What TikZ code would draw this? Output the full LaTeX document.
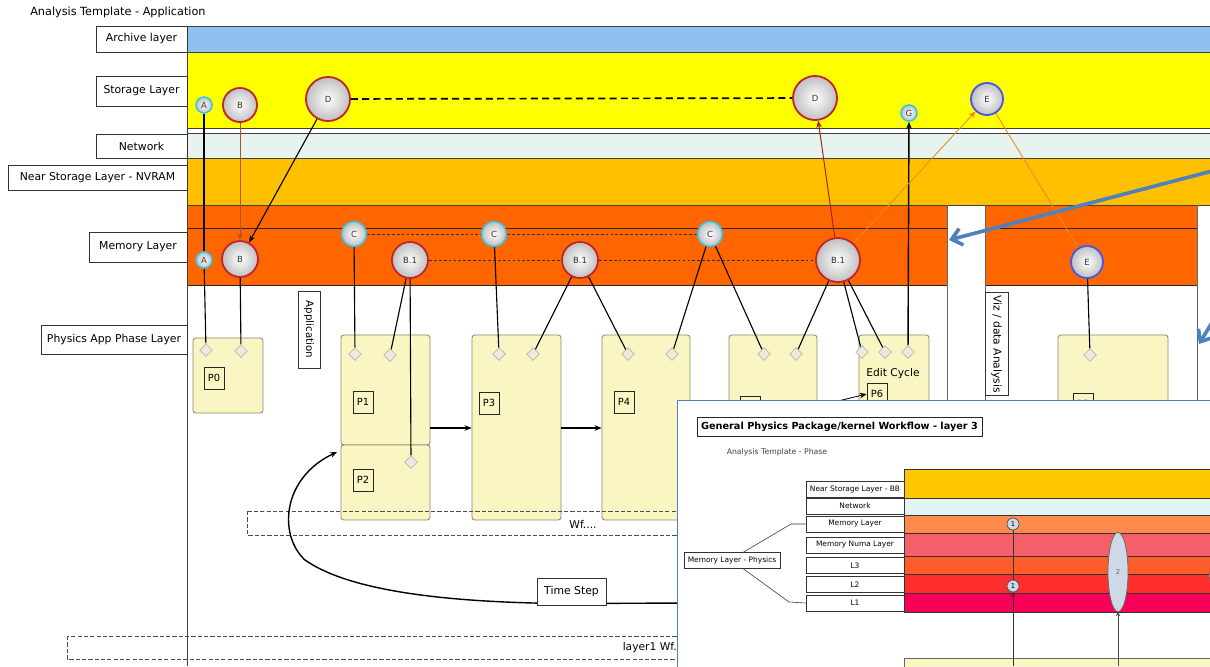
\documentclass[tikz,border=0pt]{standalone}
\usepackage{fontspec}
\setmainfont{DejaVu Sans}
\usetikzlibrary{shapes.geometric,arrows.meta}
\pgfdeclarelayer{bands}
\pgfdeclarelayer{boxes}
\pgfdeclarelayer{conn}
\pgfdeclarelayer{top}
\pgfsetlayers{bands,boxes,conn,main,top}
\definecolor{archive}{HTML}{8FC0F2}
\definecolor{storage}{HTML}{FFFF00}
\definecolor{network}{HTML}{E6F3EE}
\definecolor{nearst}{HTML}{FFC000}
\definecolor{memory}{HTML}{FF6600}
\definecolor{pfill}{HTML}{FAF6C4}
\definecolor{pborder}{HTML}{8A8870}
\definecolor{redring}{HTML}{C0262C}
\definecolor{cyanring}{HTML}{35C5E8}
\definecolor{bluering}{HTML}{4B55E6}
\definecolor{callout}{HTML}{4F81BD}
\definecolor{brownln}{HTML}{B5502A}
\definecolor{orangeln}{HTML}{E88A1A}
\definecolor{dmdfill}{HTML}{ECEADF}
\definecolor{dmdline}{HTML}{B8B6A6}
\definecolor{bbcol}{HTML}{FFC800}
\definecolor{inet}{HTML}{E2F4F1}
\definecolor{imem}{HTML}{FF8A4C}
\definecolor{inuma}{HTML}{F4606A}
\definecolor{ilthree}{HTML}{FF5C2C}
\definecolor{iltwo}{HTML}{FF2E2E}
\definecolor{ilone}{HTML}{F8005A}
\definecolor{ellfill}{HTML}{CDD9E6}
\begin{document}
\begin{tikzpicture}[x=0.025cm,y=-0.025cm,
  lbl/.style={draw=black!80, fill=white, inner sep=0pt, line width=0.5pt, font=\fontsize{7.7}{9}\selectfont},
  ringnode/.style={circle, inner sep=0pt, line width=1.3pt, inner color=white, outer color=black!25, font=\fontsize{6}{7}\selectfont, text=black!80},
  rring/.style={ringnode, draw=redring},
  cring/.style={ringnode, draw=cyanring, line width=1.1pt},
  bring/.style={ringnode, draw=bluering},
  dmd/.style={diamond, minimum size=0.32cm, inner sep=0pt, fill=dmdfill, draw=dmdline, line width=0.5pt},
  pbox/.style={draw=pborder, fill=pfill, rounded corners=2pt, line width=0.6pt, inner sep=0pt},
  plabel/.style={draw=black!85, fill=pfill, inner sep=0pt, minimum width=0.5cm, minimum height=0.55cm, line width=0.5pt, font=\fontsize{7}{8}\selectfont},
  ln/.style={line width=0.8pt, black},
  tip/.style={-{Stealth[length=5pt,width=4pt]}},
  ilbl/.style={draw=black!80, fill=white, inner sep=0pt, line width=0.4pt, minimum width=2.45cm, minimum height=0.39cm, font=\fontsize{5.3}{6}\selectfont},
  plain/.style={inner sep=0pt}
]
\useasboundingbox (0,0) rectangle (1210,666);

% ---------------- bands ----------------
\begin{pgfonlayer}{bands}
\fill[white] (0,0) rectangle (1210,666);
\fill[archive] (187,26) rectangle (1212,52);
\fill[storage] (187,52) rectangle (1212,128);
\fill[network] (187,133) rectangle (1212,158);
\fill[nearst] (187,158) rectangle (1212,205);
\fill[memory] (187,205) rectangle (947,285);
\fill[memory] (985,205) rectangle (1197,285);
\draw[black!75, line width=0.6pt] (187,26) -- (1212,26) (187,52) -- (1212,52)
  (187,128) -- (1212,128) (187,133) -- (1212,133) (187,158) -- (1212,158)
  (187,205) -- (1212,205);
\draw[black!85, line width=0.5pt] (187,228) -- (947,228) (985,228) -- (1197,228)
  (187,285) -- (947,285) (985,285) -- (1197,285);
\draw[black!60, line width=0.5pt] (947,205) -- (947,666) (985,205) -- (985,666) (1197,205) -- (1197,666);
\draw[black!75, line width=0.6pt] (187,26) -- (187,666);
\end{pgfonlayer}

\node[anchor=west, plain, font=\fontsize{8}{9}\selectfont] (ttl) at (30,12) {Analysis Template - Application};

% layer labels
\node[lbl, minimum width=2.275cm, minimum height=0.65cm] (lArch) at (141.5,39) {Archive layer};
\node[lbl, minimum width=2.275cm, minimum height=0.75cm] (lStor) at (141.5,91) {Storage Layer};
\node[lbl, minimum width=2.275cm, minimum height=0.6cm] (lNet) at (141.5,146) {Network};
\node[lbl, minimum width=4.475cm, minimum height=0.625cm] (lNear) at (97.5,177.5) {Near Storage Layer - NVRAM};
\node[lbl, minimum width=2.45cm, minimum height=0.75cm] (lMem) at (138,247) {Memory Layer};
\node[lbl, minimum width=3.65cm, minimum height=0.725cm] (lPhys) at (114,339.5) {Physics App Phase Layer};

% ---------------- phase boxes ----------------
\begin{pgfonlayer}{boxes}
\node[pbox, minimum width=1.75cm, minimum height=1.875cm] (p0) at (228,375.5) {};
\node[pbox, minimum width=2.225cm, minimum height=2.75cm] (p1) at (385.5,390) {};
\node[pbox, minimum width=2.225cm, minimum height=1.875cm] (p2) at (385.5,482.5) {};
\node[pbox, minimum width=2.225cm, minimum height=4.625cm] (p3) at (516.5,427.5) {};
\node[pbox, minimum width=2.2cm, minimum height=4.625cm] (p4) at (646,427.5) {};
\node[pbox, minimum width=2.2cm, minimum height=4.625cm] (p5) at (773,427.5) {};
\node[pbox, minimum width=1.75cm, minimum height=4.625cm] (p6) at (894,427.5) {};
\node[pbox, minimum width=2.75cm, minimum height=4.625cm] (p8) at (1113,427.5) {};
\end{pgfonlayer}

\node[plabel] (lp0) at (214,378) {P0};
\node[plabel] (lp1) at (363,402) {P1};
\node[plabel] (lp2) at (363,480) {P2};
\node[plabel] (lp3) at (489,403) {P3};
\node[plabel] (lp4) at (624,402) {P4};
\node[plabel] (lp5) at (750,407) {P5};
\node[plabel] (lp6) at (877,394) {P6};
\node[plabel] (lp8) at (1083,404) {P8};
\node[plain, font=\fontsize{7.6}{8}\selectfont] (edit) at (893,374) {Edit Cycle};

% diamonds
\node[dmd] (d0a) at (206,350) {};
\node[dmd] (d0b) at (241,351) {};
\node[dmd] (d1a) at (355,354) {};
\node[dmd] (d1b) at (390,355) {};
\node[dmd] (d2a) at (411,462) {};
\node[dmd] (d3a) at (499,354) {};
\node[dmd] (d3b) at (533,354) {};
\node[dmd] (d4a) at (628,354) {};
\node[dmd] (d4b) at (672,354) {};
\node[dmd] (d5a) at (764,354) {};
\node[dmd] (d5b) at (796,354) {};
\node[dmd] (d6a) at (862,352) {};
\node[dmd] (d6b) at (885,352) {};
\node[dmd] (d6c) at (908,352) {};
\node[dmd] (d8a) at (1090,355) {};

% vertical captions
\node[lbl, rotate=-90, minimum width=1.925cm, minimum height=0.55cm, font=\fontsize{7.3}{8}\selectfont] (app) at (309,329.5) {Application};
\node[lbl, rotate=-90, anchor=west, minimum height=0.58cm, inner xsep=2pt, font=\fontsize{7.6}{8}\selectfont] (viz) at (996.5,292) {Viz / data Analysis\hspace{8pt}};

% ---------------- circles ----------------
\node[cring, minimum size=0.4cm] (aS) at (204,105) {A};
\node[rring, minimum size=0.85cm] (bS) at (240,105) {B};
\node[rring, minimum size=1.1cm] (dS1) at (328,99) {D};
\node[rring, minimum size=1.1cm] (dS2) at (815,98) {D};
\node[cring, minimum size=0.4cm] (gS) at (909,113) {G};
\node[bring, minimum size=0.8cm] (eS) at (987,99) {E};
\node[cring, minimum size=0.4cm] (aM) at (204,260) {A};
\node[rring, minimum size=0.9cm] (bM) at (240,259) {B};
\node[cring, minimum size=0.62cm] (cM1) at (354,234) {C};
\node[cring, minimum size=0.62cm] (cM2) at (494,234) {C};
\node[cring, minimum size=0.62cm] (cM3) at (710,234) {C};
\node[rring, minimum size=0.9cm] (b1a) at (410,260) {B.1};
\node[rring, minimum size=0.9cm] (b1b) at (580,260) {B.1};
\node[rring, minimum size=1.1cm] (b1c) at (838,260) {B.1};
\node[bring, minimum size=0.8cm] (eM) at (1087,262) {E};

% other boxes
\node[lbl, minimum width=1.725cm, minimum height=0.675cm] (tstep) at (571.5,591.5) {Time Step};
\coordinate (wfA) at (247,511);
\coordinate (wfB) at (700,535);
\coordinate (lyA) at (67,636);
\coordinate (lyB) at (700,659);
\node[plain, font=\fontsize{7.6}{8}\selectfont] (wftxt) at (583,524) {Wf....};
\node[plain, anchor=east, font=\fontsize{7.6}{8}\selectfont] (lytxt) at (677,648) {layer1 Wf.};
\coordinate (tsStart) at (700,603);
\coordinate (tsEnd) at (337,452);
\coordinate (p6in) at (826,404);

% ---------------- connectors ----------------
\begin{pgfonlayer}{conn}
\draw[black!70, line width=0.5pt, dash pattern=on 3pt off 1.5pt] (wfA) rectangle (wfB);
\draw[black!70, line width=0.5pt, dash pattern=on 3pt off 1.5pt] (lyA) rectangle (lyB);
\draw[line width=1.2pt, dash pattern=on 5pt off 3pt] (dS1) -- (dS2);
\draw[black!80, line width=0.5pt, dash pattern=on 2pt off 1.5pt] (cM1) -- (cM2);
\draw[black!80, line width=0.5pt, dash pattern=on 2pt off 1.5pt] (cM2) -- (cM3);
\draw[black!80, line width=0.5pt, dash pattern=on 2pt off 1.5pt] (b1a) -- (b1b);
\draw[black!80, line width=0.5pt, dash pattern=on 2pt off 1.5pt] (b1b) -- (b1c);
\draw[ln] (aS) -- (aM);
\draw[ln] (aM) -- (d0a);
\draw[brownln, line width=0.6pt, tip] (bS) -- (bM);
\draw[ln] (bM) -- (d0b);
\draw[ln, tip] (dS1) -- (bM);
\draw[ln] (cM1) -- (d1a);
\draw[ln] (b1a) -- (d1b);
\draw[ln] (b1a) -- (d2a);
\draw[ln] (cM2) -- (d3a);
\draw[ln] (b1b) -- (d3b);
\draw[ln] (b1b) -- (d4a);
\draw[ln] (cM3) -- (d4b);
\draw[ln] (cM3) -- (d5a);
\draw[ln] (b1c) -- (d5b);
\draw[ln] (b1c) -- (d6a);
\draw[ln] (b1c) -- (d6b);
\draw[ln, line width=1pt, tip] (d6c) -- (gS);
\draw[redring!85!black, line width=0.7pt, tip] (b1c) -- (dS2);
\draw[orangeln, line width=0.6pt, tip] (b1c) -- (eS);
\draw[orangeln, line width=0.6pt] (eS) -- (eM);
\draw[ln] (eM) -- (d8a);
\draw[ln, tip] (p1.east |- 0,428) -- (p3.west |- 0,428);
\draw[ln, tip] (p3.east |- 0,428) -- (p4.west |- 0,428);
\draw[black, line width=0.6pt, tip] (p6in) -- (lp6.west);
\draw[black, line width=1pt, tip] (tsStart) -- (560,603.5)
   .. controls (430,602) and (345,588) .. (305,560)
   .. controls (278,535) and (282,478) .. (tsEnd);
\end{pgfonlayer}

% ---------------- inset ----------------
\begin{pgfonlayer}{top}
\node[draw=callout, fill=white, line width=0.9pt, minimum width=13.5cm, minimum height=7cm, anchor=north west, inner sep=0pt] (inset) at (677,400) {};
\node[draw=black!85, line width=0.5pt, inner sep=0pt, minimum width=7.125cm, minimum height=0.47cm, font=\bfseries\fontsize{6.9}{8}\selectfont] (ititle) at (839.5,427) {General Physics Package/kernel Workflow - layer 3};
\node[plain, font=\fontsize{5.5}{6}\selectfont, text=black!75] (isub) at (777,452) {Analysis Template - Phase};
\fill[bbcol] (904,469) rectangle (1215,498);
\fill[inet] (904,498) rectangle (1215,515);
\fill[imem] (904,515) rectangle (1215,533);
\fill[inuma] (904,533) rectangle (1215,556);
\fill[ilthree] (904,556) rectangle (1215,574);
\fill[iltwo] (904,574) rectangle (1215,593);
\fill[ilone] (904,593) rectangle (1215,612);
\draw[black!80, line width=0.4pt] (904,469) -- (1215,469) (904,498) -- (1215,498) (904,515) -- (1215,515)
  (904,533) -- (1215,533) (904,556) -- (1215,556) (904,574) -- (1215,574) (904,593) -- (1215,593) (904,612) -- (1215,612);
\draw[black!80, line width=0.4pt] (904,469) -- (904,612);
\node[ilbl] (iNear) at (855,489.5) {Near Storage Layer - BB};
\node[ilbl] (iNet) at (855,506) {Network};
\node[ilbl] (iMem) at (855,524) {Memory Layer};
\node[ilbl] (iNuma) at (855,545) {Memory Numa Layer};
\node[ilbl] (iL3) at (855,565.5) {L3};
\node[ilbl] (iL2) at (855,584.5) {L2};
\node[ilbl] (iL1) at (855,603) {L1};
\node[ilbl, minimum width=2.4cm] (iPhys) at (732,560.5) {Memory Layer - Physics};
\draw[black!80, line width=0.4pt] ([xshift=0.275cm]iPhys.north) -- (791,524) -- (iMem.west);
\draw[black!80, line width=0.4pt] ([xshift=0.275cm]iPhys.south) -- (789,602) -- (iL1.west);
\fill[pfill] (904,658) rectangle (1215,670);
\draw[black!60, line width=0.5pt] (904,670) -- (904,658) -- (1215,658);
\node[circle, draw=black!70, fill=ellfill, line width=0.5pt, minimum size=0.3cm, inner sep=0pt, font=\fontsize{4.8}{5}\selectfont] (c1a) at (1013,524) {1};
\node[circle, draw=black!70, fill=ellfill, line width=0.5pt, minimum size=0.3cm, inner sep=0pt, font=\fontsize{4.8}{5}\selectfont] (c1b) at (1013,586) {1};
\node[ellipse, draw=black!60, fill=ellfill, line width=0.5pt, minimum width=0.5cm, minimum height=1.98cm, inner sep=0pt, font=\fontsize{4.8}{5}\selectfont, text=black!60] (e2) at (1118,572) {2};
\node[circle, draw=black!60, fill=ellfill, line width=0.5pt, minimum size=0.55cm, inner sep=0pt] (c3) at (1220,576) {};
\coordinate (c1foot) at (1013,666);
\coordinate (e2foot) at (1118,666);
\draw[black!80, line width=0.5pt] (c1a) -- (c1b);
\draw[black!80, line width=0.5pt, -{Stealth[length=3pt,width=3pt]}] (c1foot) -- (c1b);
\draw[black!70, line width=0.5pt, -{Stealth[length=3pt,width=3pt]}] (e2foot) -- (e2);
% callout arrows
\coordinate (co1s) at (1216,170);
\coordinate (co1e) at (949,240);
\coordinate (co2s) at (1222,306);
\coordinate (co2e) at (1199,344);
\draw[callout, line width=2.6pt, -{Straight Barb[length=7pt,width=12pt,line width=2.6pt]}] (co1s) -- (co1e);
\draw[callout, line width=2.6pt, -{Straight Barb[length=7pt,width=12pt,line width=2.6pt]}] (co2s) -- (co2e);
\end{pgfonlayer}
\end{tikzpicture}
\end{document}
